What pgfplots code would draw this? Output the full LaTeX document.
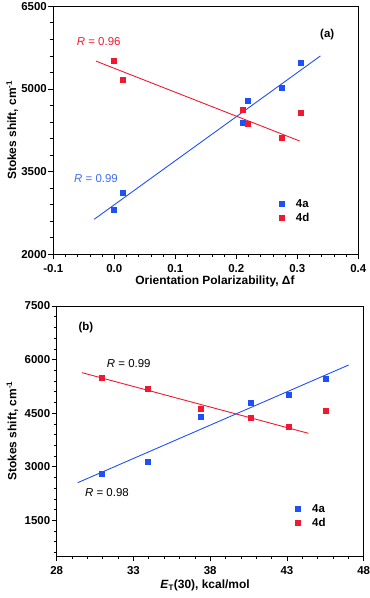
\documentclass[border=0pt]{standalone}
\usepackage{fontspec}
\setmainfont{Liberation Sans}
\usepackage{pgfplots}
\pgfplotsset{compat=1.18}
\definecolor{ssBlue}{RGB}{30,80,245}
\definecolor{ssRed}{RGB}{240,25,50}

\pgfplotsset{
  stokes/.style={
    scale only axis,
    axis line style={line width=0.9pt},
    tick align=outside, xtick pos=bottom, ytick pos=left,
    major tick length=5bp, minor tick length=3bp,
    every tick/.style={black, line width=0.8pt},
    every minor tick/.style={black, line width=0.7pt},
    tick label style={font=\bfseries\fontsize{11.5}{13}\selectfont},
    yticklabel style={xshift=2bp, /pgf/number format/1000 sep={}},
    xticklabel style={yshift=-1.5bp},
    label style={font=\bfseries\fontsize{12}{14}\selectfont},
    /pgf/number format/assume math mode=true,
    legend style={draw=none, fill=none, font=\bfseries\fontsize{11.5}{14}\selectfont,
      row sep=0pt},
    legend cell align=left,
    legend image code/.code={
      \draw[##1] plot coordinates {(0bp,0bp)};
      \path (-3bp,-3bp) (12bp,3bp);
    },
  },
  pts/.style={#1, only marks, mark=square*, mark size=2.5bp, mark options={fill=#1, draw=#1}},
  fitline/.style={#1, line width=0.9pt, no marks, forget plot},
}

\begin{document}
\begin{tikzpicture}
\path[use as bounding box] (0,0) rectangle (370bp,598bp);

% (a) Stokes shift vs orientation polarizability
\begin{axis}[stokes,
  at={(53.3bp,343.7bp)}, anchor=south west,
  width=305bp, height=248bp,
  xmin=-0.1, xmax=0.4, ymin=2000, ymax=6500,
  xtick={-0.1,0,0.1,0.2,0.3,0.4},
  minor xtick={-0.08,-0.06,-0.04,-0.02,0.02,0.04,0.06,0.08,0.12,0.14,0.16,0.18,0.22,0.24,0.26,0.28,0.32,0.34,0.36,0.38},
  ytick={2000,3500,5000,6500},
  minor ytick={2300,2600,2900,3200,3800,4100,4400,4700,5300,5600,5900,6200},
  xticklabel style={/pgf/number format/.cd, fixed, fixed zerofill, precision=1},
  xlabel={Orientation Polarizability, Δf},
  ylabel={Stokes shift, cm\textsuperscript{-1}},
  xlabel style={at={(axis description cs:0.53,-0.11)}, anchor=center},
  ylabel style={at={(axis description cs:-0.135,0.5)}, anchor=center},
  legend style={at={(axis description cs:0.728,0.238)}, anchor=north west},
]
\addplot[fitline=ssBlue] coordinates {(-0.033,2635) (0.338,5600)};
\addplot[fitline=ssRed] coordinates {(-0.030,5505) (0.304,4055)};
\addplot[pts=ssBlue] coordinates {
  (-0.001,2810) (0.013,3125) (0.210,4390) (0.219,4785) (0.275,5020) (0.306,5475)};
\addplot[pts=ssRed] coordinates {
  (-0.001,5505) (0.013,5170) (0.210,4630) (0.219,4375) (0.275,4115) (0.306,4570)};
\legend{4a,4d}
\node[anchor=west, text=ssRed, font=\fontsize{11.5}{13}\selectfont, inner sep=0pt]
  at (axis cs:-0.0616,5852) {\textit{R} = 0.96};
\node[anchor=west, text=ssBlue!85!white, font=\fontsize{11.5}{13}\selectfont, inner sep=0pt]
  at (axis cs:-0.066,3374) {\textit{R} = 0.99};
\node[font=\bfseries\fontsize{11.5}{13}\selectfont] at (axis cs:0.349,5986) {(a)};
\end{axis}

% (b) Stokes shift vs ET(30)
\begin{axis}[stokes,
  at={(56.7bp,42bp)}, anchor=south west,
  width=307bp, height=250bp,
  xmin=28, xmax=48, ymin=500, ymax=7500,
  xtick={28,33,38,43,48},
  minor xtick={29,30,31,32,34,35,36,37,39,40,41,42,44,45,46,47},
  ytick={1500,3000,4500,6000,7500},
  minor ytick={600,900,1200,1800,2100,2400,2700,3300,3600,3900,4200,4800,5100,5400,5700,6300,6600,6900,7200},
  xlabel={\textit{E}\textsubscript{T}(30), kcal/mol},
  ylabel={Stokes shift, cm\textsuperscript{-1}},
  xlabel style={at={(axis description cs:0.483,-0.118)}, anchor=center},
  ylabel style={at={(axis description cs:-0.144,0.5)}, anchor=center},
  legend style={at={(axis description cs:0.765,0.223)}, anchor=north west},
]
\addplot[fitline=ssBlue] coordinates {(29.37,2553) (47.02,5848)};
\addplot[fitline=ssRed] coordinates {(29.65,5633) (44.4,3935)};
\addplot[pts=ssBlue] coordinates {
  (30.9,2815) (33.9,3130) (37.35,4392) (40.65,4793) (43.12,5027) (45.5,5475)};
\addplot[pts=ssRed] coordinates {
  (30.9,5503) (33.9,5176) (37.35,4625) (40.65,4383) (43.12,4121) (45.5,4569)};
\legend{4a,4d}
\node[anchor=west, font=\fontsize{11.5}{13}\selectfont, inner sep=0pt]
  at (axis cs:31.26,5895) {\textit{R} = 0.99};
\node[anchor=west, font=\fontsize{11.5}{13}\selectfont, inner sep=0pt]
  at (axis cs:29.84,2273) {\textit{R} = 0.98};
\node[font=\bfseries\fontsize{11.5}{13}\selectfont] at (axis cs:29.9,6892) {(b)};
\end{axis}
\end{tikzpicture}
\end{document}
